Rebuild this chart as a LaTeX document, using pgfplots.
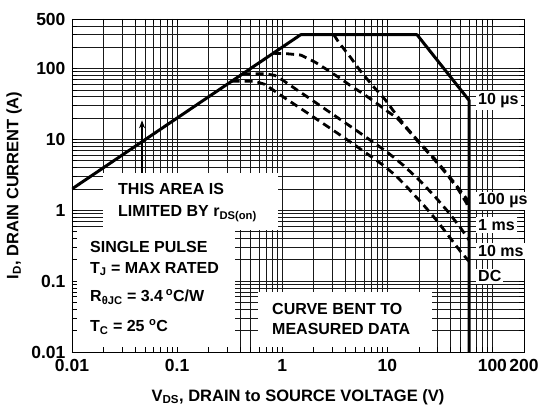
\documentclass[border=0pt]{standalone}
\usepackage{fontspec}
\setmainfont{Liberation Sans}
\usepackage{pgfplots}
\pgfplotsset{compat=1.18}
\usetikzlibrary{arrows.meta}
\newcommand{\txt}{\fontsize{16}{18}\selectfont\bfseries}
\newcommand{\tck}{\fontsize{17.5}{19}\selectfont\bfseries}
\newcommand{\lbl}{\fontsize{16.5}{18}\selectfont\bfseries}
\begin{document}
\begin{tikzpicture}
\path[use as bounding box] (-72pt,-59pt) rectangle (470pt,352pt);
% grid layer
\begin{axis}[xmode=log, ymode=log, scale only axis, width=452pt, height=333pt,
  at={(0pt,0pt)}, anchor=south west,
  xmin=0.01, xmax=200, ymin=0.01, ymax=500,
  xtick={0.01,0.1,1,10,100,200},
  ytick={0.01,0.1,1,10,100,500},
  minor xtick={0.02,0.03,0.04,0.05,0.06,0.07,0.08,0.09,0.2,0.3,0.4,0.5,0.6,0.7,0.8,0.9,2,3,4,5,6,7,8,9,20,30,40,50,60,70,80,90},
  minor ytick={0.02,0.03,0.04,0.05,0.06,0.07,0.08,0.09,0.2,0.3,0.4,0.5,0.6,0.7,0.8,0.9,2,3,4,5,6,7,8,9,20,30,40,50,60,70,80,90,200,300,400},
  grid=both,
  major grid style={black!90, line width=0.7pt},
  minor grid style={black!90, line width=0.7pt},
  xticklabels={}, yticklabels={},
  major tick length=0pt, minor tick length=0pt,
  axis line style={draw=none}]
\end{axis}
% white boxes
\fill[white] (31pt,122pt) rectangle (206pt,179pt);
\fill[white] (0pt,0pt) rectangle (163pt,122pt);
\fill[white] (186pt,0pt) rectangle (360pt,60pt);
% main layer
\begin{axis}[xmode=log, ymode=log, scale only axis, width=452pt, height=333pt,
  at={(0pt,0pt)}, anchor=south west,
  xmin=0.01, xmax=200, ymin=0.01, ymax=500,
  xtick={0.01,0.1,1,10,100,200},
  ytick={0.01,0.1,1,10,100,500},
  minor xtick={0.02,0.03,0.04,0.05,0.06,0.07,0.08,0.09,0.2,0.3,0.4,0.5,0.6,0.7,0.8,0.9,2,3,4,5,6,7,8,9,20,30,40,50,60,70,80,90},
  minor ytick={0.02,0.03,0.04,0.05,0.06,0.07,0.08,0.09,0.2,0.3,0.4,0.5,0.6,0.7,0.8,0.9,2,3,4,5,6,7,8,9,20,30,40,50,60,70,80,90,200,300,400},
  tick align=inside,
  major tick length=5pt, minor tick length=5pt,
  tick style={black, line width=0.7pt},
  axis line style={black, line width=0.9pt},
  xticklabels={0.01,0.1,1,10,100,200},
  yticklabels={0.01,0.1,1,10,100,500},
  /pgf/number format/assume math mode=true,
  ticklabel style={font=\tck},
  xticklabel style={yshift=-4pt},
  yticklabel style={xshift=-3pt},
  xlabel={V\textsubscript{DS}, DRAIN to SOURCE VOLTAGE (V)},
  ylabel={I\textsubscript{D}, DRAIN CURRENT (A)},
  label style={font=\lbl},
  xlabel style={at={(axis description cs:0.5,-0.135)}, anchor=center},
  ylabel style={at={(axis description cs:-0.128,0.5)}, anchor=center},
  ]
% limits: rDS(on), current, 10us, BVDSS
\addplot[black, line width=3pt, line join=round] coordinates {
  (0.01,2) (1.5,300) (19.2,300) (60,35.6) (60,0.01)};
% 100 us
\addplot[black, line width=2.8pt, dash pattern=on 8pt off 5pt] coordinates {
  (3.1,300) (3.44,236) (4.45,145) (5.5,94) (7.2,58) (9.6,36) (12.4,21.5)
  (15.8,13.8) (20.6,8.8) (27.4,5.6) (37,3.3) (47,2.1) (57,1.45) (60,1.25)};
% 1 ms
\addplot[black, line width=2.8pt, dash pattern=on 8pt off 5pt] coordinates {
  (0.82,164) (1.1,162) (1.5,155) (2.06,123) (2.74,94) (3.57,72.5) (4.44,57.7)
  (5.9,44) (8,32) (10,25) (12.4,20) (15.8,13.5) (20.6,8.6) (27.4,5.4) (37,3.2)
  (47,2.0) (57,1.25) (60,0.95)};
% 10 ms
\addplot[black, line width=2.8pt, dash pattern=on 8pt off 5pt] coordinates {
  (0.42,84) (0.7,84) (0.85,80) (1.02,68) (1.38,50) (1.77,39) (2.41,28.5)
  (3.5,19.5) (5,13.6) (7,9.6) (10,6.6) (14,4.4) (20,2.7) (28,1.6) (38,0.95)
  (50,0.56) (60,0.38)};
% DC
\addplot[black, line width=2.8pt, dash pattern=on 8pt off 5pt] coordinates {
  (0.33,66) (0.55,66) (0.68,60) (0.85,48) (1.1,37) (1.5,27.3) (2,20.5) (3,13.7)
  (4.5,9.1) (6.4,6.3) (9,4.4) (12,3.1) (16,2.0) (22,1.2) (30,0.7) (40,0.4)
  (50,0.26) (60,0.19)};
\draw[black, line width=1.3pt, -{Stealth[length=8pt,width=6pt]}]
  (axis cs:0.0464,3.4) -- (axis cs:0.0464,18.6);
\end{axis}
% annotations
\node[anchor=base west, inner sep=0pt, font=\txt] at (46pt,157pt) {THIS AREA IS};
\node[anchor=base west, inner sep=0pt, font=\txt] at (46pt,135.3pt) {LIMITED BY r\textsubscript{DS(on)}};
\node[anchor=base west, inner sep=0pt, font=\txt] at (18pt,99.3pt) {SINGLE PULSE};
\node[anchor=base west, inner sep=0pt, font=\txt] at (18pt,78.7pt) {T\textsubscript{J} = MAX RATED};
\node[anchor=base west, inner sep=0pt, font=\txt] at (18pt,50.3pt) {R\textsubscript{θJC} = 3.4\,\textsuperscript{o}C/W};
\node[anchor=base west, inner sep=0pt, font=\txt] at (18pt,20.3pt) {T\textsubscript{C} = 25 \textsuperscript{o}C};
\node[anchor=base west, inner sep=0pt, font=\txt] at (200pt,37pt) {CURVE BENT TO};
\node[anchor=base west, inner sep=0pt, font=\txt] at (200pt,17pt) {MEASURED DATA};
\node[anchor=west, fill=white, inner sep=2pt, font=\txt] at (404pt,251.3pt) {10 µs};
\node[anchor=west, fill=white, inner sep=2pt, font=\txt] at (404pt,151pt) {100 µs};
\node[anchor=west, fill=white, inner sep=2pt, font=\txt] at (404pt,127pt) {1 ms};
\node[anchor=west, fill=white, inner sep=2pt, font=\txt] at (404pt,101pt) {10 ms};
\node[anchor=west, fill=white, inner sep=2pt, font=\txt] at (404pt,75.5pt) {DC};
\end{tikzpicture}
\end{document}
